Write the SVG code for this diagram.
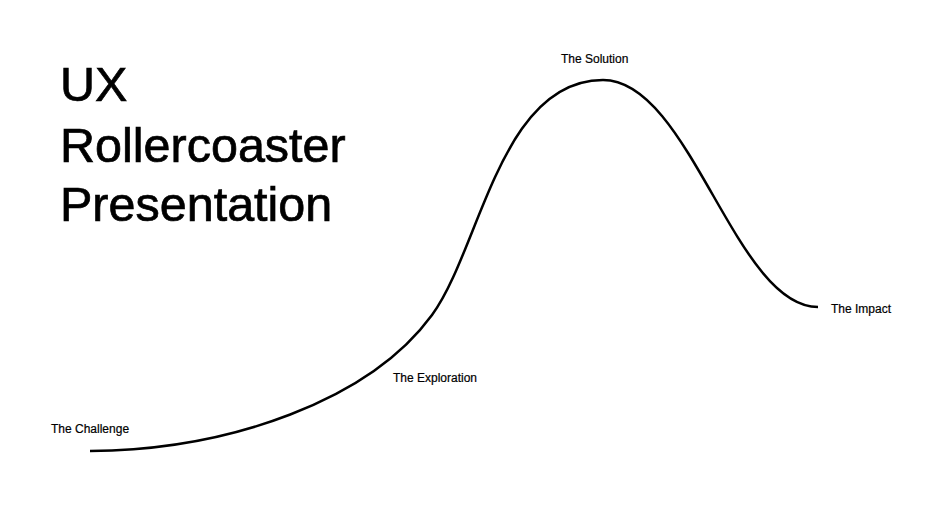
<svg xmlns="http://www.w3.org/2000/svg" width="941" height="515" viewBox="0 0 941 515">
<style>
.title{font-family:"Liberation Sans",Arial,sans-serif;font-size:48.5px;fill:#000;stroke:#000;stroke-width:0.7px}
.lbl{font-family:"Liberation Sans",Arial,sans-serif;font-size:12px;fill:#000;stroke:#000;stroke-width:0.2px}
.curve{fill:none;stroke:#000;stroke-width:2.5;stroke-linecap:butt}
</style>
<rect width="941" height="515" fill="#fff"/>
<g id="title">
<text class="title" x="60" y="101">UX</text>
<text class="title" x="60" y="162">Rollercoaster</text>
<text class="title" x="60" y="221">Presentation</text>
</g>
<g id="connectors">
<path class="curve" d="M90,451 C230,450 370,400 432,315 C480,250 500,80 603,80 C690,80 735,307 818,307"/>
</g>
<g id="challenge"><text class="lbl" x="51" y="433">The Challenge</text></g>
<g id="exploration"><text class="lbl" x="393" y="382">The Exploration</text></g>
<g id="solution"><text class="lbl" x="561" y="63">The Solution</text></g>
<g id="impact"><text class="lbl" x="831" y="313">The Impact</text></g>
</svg>
